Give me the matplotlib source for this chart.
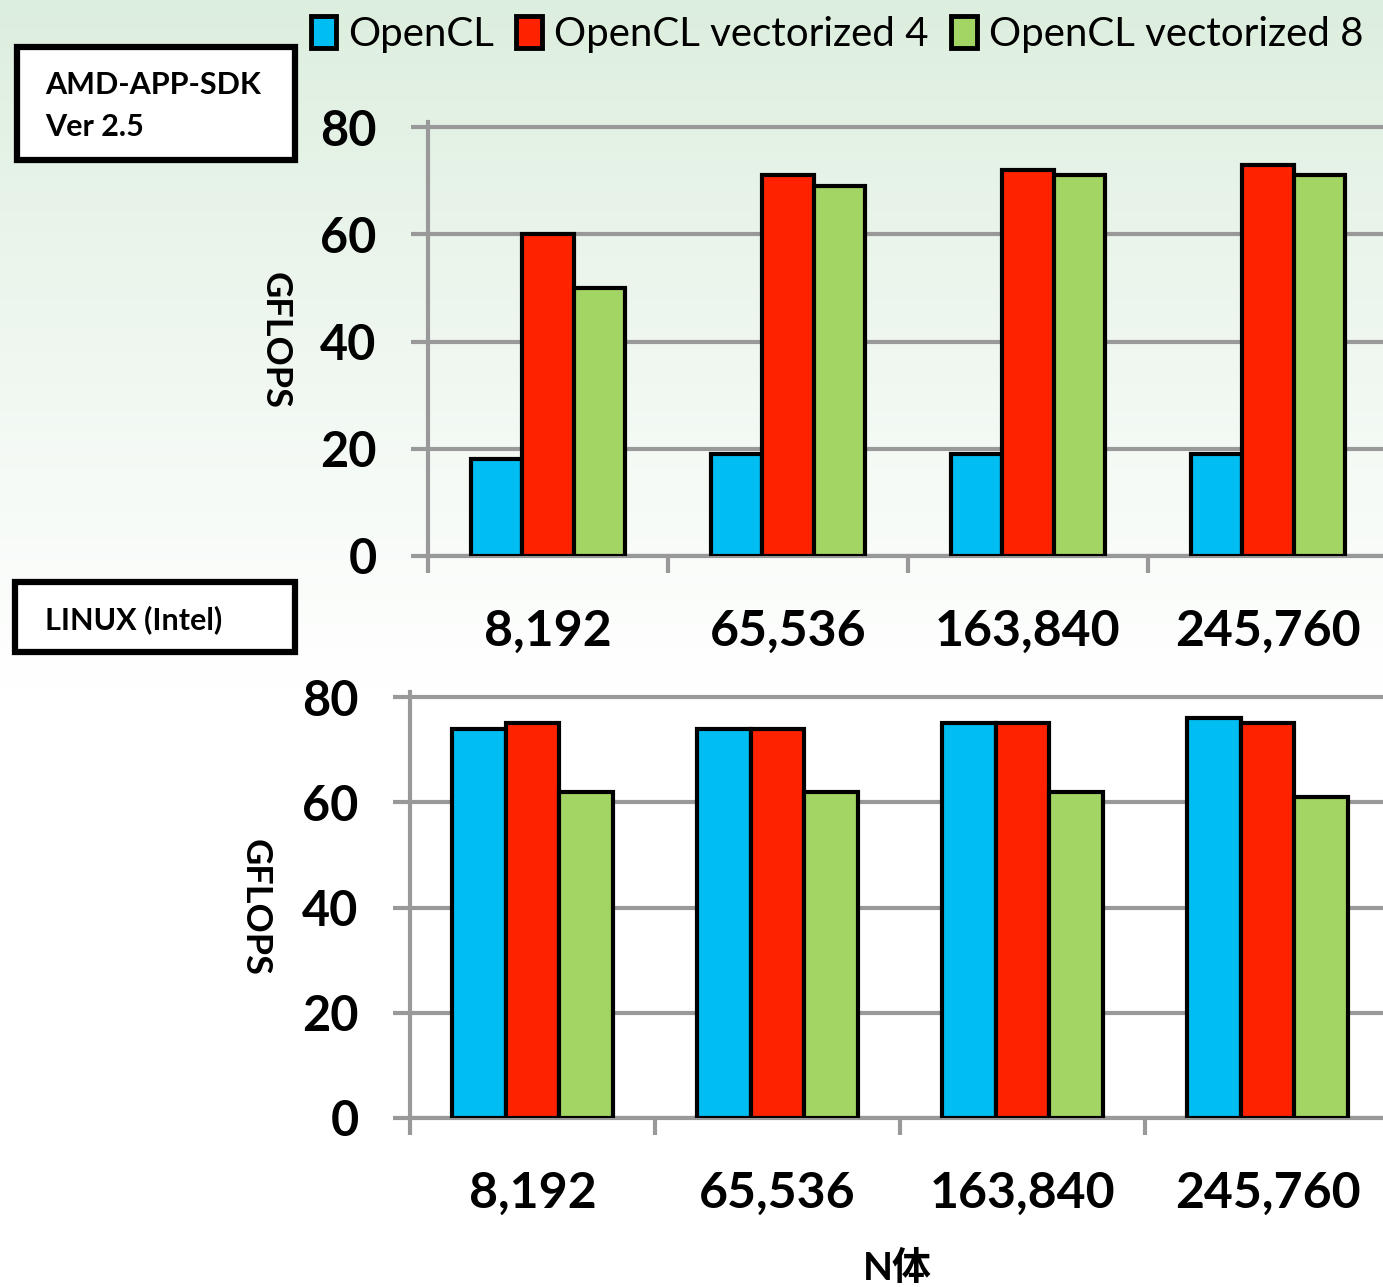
import numpy as np
import matplotlib.pyplot as plt
from matplotlib.patches import Patch, Rectangle

# problem sizes (number of bodies) and kernel variants
sizes = ["8,192", "65,536", "163,840", "245,760"]
series = ["OpenCL", "OpenCL vectorized 4", "OpenCL vectorized 8"]

# GFLOPS, AMD-APP-SDK 2.5
amd_opencl = [18, 19, 19, 19]
amd_vec4 = [60, 71, 72, 73]
amd_vec8 = [50, 69, 71, 71]

# GFLOPS, Linux (Intel)
linux_opencl = [74, 74, 75, 76]
linux_vec4 = [75, 74, 75, 75]
linux_vec8 = [62, 62, 62, 61]

yticks = [0, 20, 40, 60, 80]
colors = ["#00bdf2", "#ff2200", "#a2d564"]
GRID = "#999999"

plt.rcParams["font.family"] = ["Lato", "Noto Sans CJK JP"]

W, H = 1383, 1287
fig = plt.figure(figsize=(W / 100, H / 100), dpi=100)

# pale green wash fading to white
bg = fig.add_axes([0, 0, 1, 1], zorder=-10)
t = np.clip(np.arange(H) / 690.0, 0, 1) ** 0.9
top = np.array([220, 238, 222]) / 255.0
grad = top[None, :] * (1 - t[:, None]) + t[:, None]
bg.imshow(grad[:, None, :], aspect="auto", extent=[0, 1, 0, 1], origin="upper")
bg.axis("off")


def px_axes(left, zero_y, right, unit_px_80):
    """axes rect from pixel positions; y range 0..81"""
    h = unit_px_80 * 81 / 80
    return [left / W, 1 - zero_y / H, (right - left) / W, h / H]


def draw_panel(ax, values, width, xmax, label_x):
    x = np.arange(len(sizes))
    for i, (vals, c) in enumerate(zip(values, colors)):
        ax.bar(x + (i - 1) * width, vals, width, color=c,
               edgecolor="black", linewidth=3.0, zorder=3)
    ax.set_xlim(-0.5, xmax)
    ax.set_ylim(0, 81)
    ax.set_yticks(yticks)
    ax.yaxis.grid(True, color=GRID, linewidth=3)
    ax.set_axisbelow(True)
    ax.set_facecolor("none")
    for s in ["top", "right"]:
        ax.spines[s].set_visible(False)
    for s in ["left", "bottom"]:
        ax.spines[s].set_color(GRID)
        ax.spines[s].set_linewidth(3)
    ax.set_xticks(x)
    ax.set_xticklabels(sizes, fontsize=36, fontweight="bold")
    ax.set_xticks(np.arange(-0.5, xmax, 1), minor=True)
    ax.tick_params(axis="x", which="major", length=0, pad=38)
    ax.tick_params(axis="x", which="minor", length=12, width=3, color=GRID)
    ax.tick_params(axis="y", length=12, width=3, color=GRID,
                   labelsize=35, pad=25)
    for lbl in ax.get_yticklabels():
        lbl.set_fontweight("bold")
    ax.text(label_x, 0.495, "GFLOPS", transform=ax.transAxes, rotation=270,
            ha="center", va="center", fontsize=26, fontweight="bold")


ax1 = fig.add_axes(px_axes(428, 556, W, 429))
draw_panel(ax1, [amd_opencl, amd_vec4, amd_vec8], 0.215,
           -0.5 + (W - 428) / 240, -0.160)

ax2 = fig.add_axes(px_axes(410, 1118, W, 421))
draw_panel(ax2, [linux_opencl, linux_vec4, linux_vec8], 0.22,
           -0.5 + (W - 410) / 245, -0.159)

# legend across the top
handles = [Patch(facecolor=c, edgecolor="black", linewidth=3.5) for c in colors]
fig.legend(handles, series, loc="upper right", bbox_to_anchor=(1.012, 1.016),
           ncol=3, frameon=False, fontsize=29, handlelength=0.64,
           handleheight=0.85, handletextpad=0.3, columnspacing=0.55)


def label_box(x0, y0, x1, y1, lines, ys):
    fig.add_artist(Rectangle((x0 / W, 1 - y1 / H), (x1 - x0) / W, (y1 - y0) / H,
                             transform=fig.transFigure, facecolor="white",
                             edgecolor="black", linewidth=4.5))
    for s, y in zip(lines, ys):
        fig.text(45 / W, 1 - y / H, s, ha="left", va="center",
                 fontsize=22, fontweight="bold")


label_box(17, 47, 295, 160, ["AMD-APP-SDK", "Ver 2.5"], [85, 127])
label_box(15, 582, 295, 652, ["LINUX (Intel)"], [620])

fig.text(897 / W, 1 - 1268 / H, "N体", ha="center", va="center",
         fontsize=28, fontweight="bold")

fig.savefig("out.png", dpi=100)
